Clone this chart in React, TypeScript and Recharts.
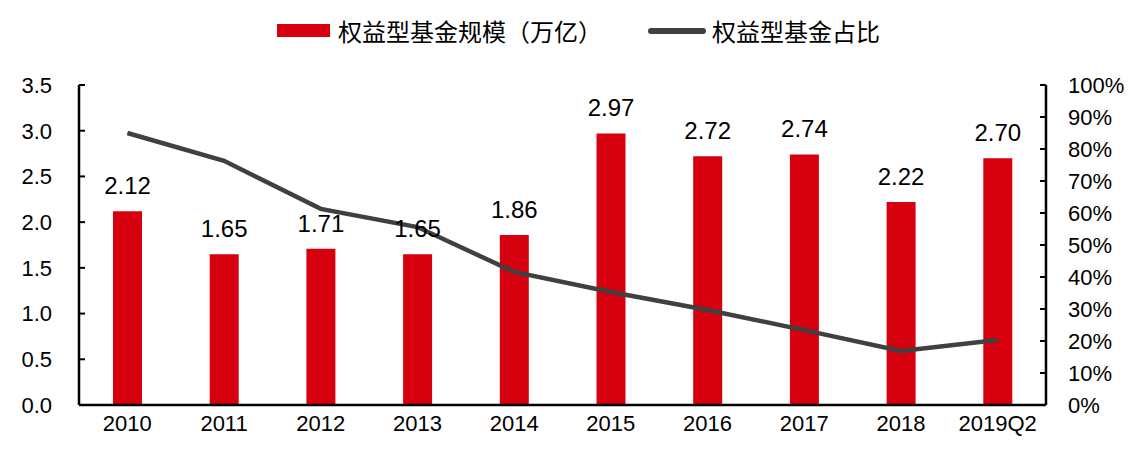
import { ComposedChart, Bar, Line, XAxis, YAxis, LabelList } from 'recharts'

const years = ['2010', '2011', '2012', '2013', '2014', '2015', '2016', '2017', '2018', '2019Q2']
const scale = [2.12, 1.65, 1.71, 1.65, 1.86, 2.97, 2.72, 2.74, 2.22, 2.70]
const share = [0.85, 0.763, 0.613, 0.556, 0.416, 0.353, 0.297, 0.234, 0.169, 0.203]

const leftTicks = [0, 0.5, 1, 1.5, 2, 2.5, 3, 3.5]
const rightTicks = [0, 0.1, 0.2, 0.3, 0.4, 0.5, 0.6, 0.7, 0.8, 0.9, 1]

const barName = '权益型基金规模（万亿）'
const lineName = '权益型基金占比'

const data = years.map((year, i) => ({ year, scale: scale[i], share: share[i] }))

const RED = '#d7000f'
const GREY = '#404040'
const font = 'Liberation Sans, Arial, Helvetica, sans-serif'
const cjk = '"Noto Sans CJK SC", sans-serif'

const tickStyle = { fontSize: 22, fill: '#000', fontFamily: font }

export default function App() {
  return (
    <div style={{ position: 'absolute', left: 0, top: 0, width: 1137, height: 450, background: '#fff' }}>
      {/* legend */}
      <div style={{ position: 'absolute', top: 15, left: 0, width: 1137, height: 32, fontFamily: cjk, fontSize: 24, color: '#000' }}>
        <div style={{ position: 'absolute', left: 277, top: 9, width: 53, height: 13, background: RED }} />
        <div style={{ position: 'absolute', left: 338, top: 0, lineHeight: '32px' }}>{barName}</div>
        <div style={{ position: 'absolute', left: 648, top: 13, width: 58, height: 6, borderRadius: 3, background: GREY }} />
        <div style={{ position: 'absolute', left: 712, top: 0, lineHeight: '32px' }}>{lineName}</div>
      </div>

      <ComposedChart width={1137} height={450} data={data} margin={{ top: 85, right: 0, bottom: 0, left: 0 }} barCategoryGap={0}>
        <XAxis
          dataKey="year"
          height={45}
          tickLine={false}
          tickSize={0}
          tickMargin={10}
          axisLine={{ stroke: '#000', strokeWidth: 2.5 }}
          tick={tickStyle}
          interval={0}
        />
        <YAxis
          yAxisId="left"
          width={79}
          domain={[0, 3.5]}
          ticks={leftTicks}
          tickFormatter={(v: number) => v.toFixed(1)}
          axisLine={{ stroke: '#000', strokeWidth: 2.5 }}
          tickLine={{ stroke: '#000', strokeWidth: 2 }}
          tickSize={-6}
          tickMargin={33}
          tick={tickStyle}
        />
        <YAxis
          yAxisId="right"
          orientation="right"
          width={91}
          domain={[0, 1]}
          ticks={rightTicks}
          tickFormatter={(v: number) => `${Math.round(v * 100)}%`}
          axisLine={{ stroke: '#000', strokeWidth: 2.5 }}
          tickLine={{ stroke: '#000', strokeWidth: 2 }}
          tickSize={-6}
          tickMargin={28}
          tick={{ ...tickStyle, textAnchor: 'start' }}
        />
        <Bar yAxisId="left" dataKey="scale" name={barName} fill={RED} barSize={29} isAnimationActive={false}>
          <LabelList
            dataKey="scale"
            position="top"
            offset={17}
            formatter={(v: number) => v.toFixed(2)}
            style={{ fontSize: 24, fill: '#000', fontFamily: font }}
          />
        </Bar>
        <Line
          yAxisId="right"
          dataKey="share"
          name={lineName}
          type="linear"
          stroke={GREY}
          strokeWidth={4.5}
          dot={false}
          activeDot={false}
          isAnimationActive={false}
        />
      </ComposedChart>
    </div>
  )
}
